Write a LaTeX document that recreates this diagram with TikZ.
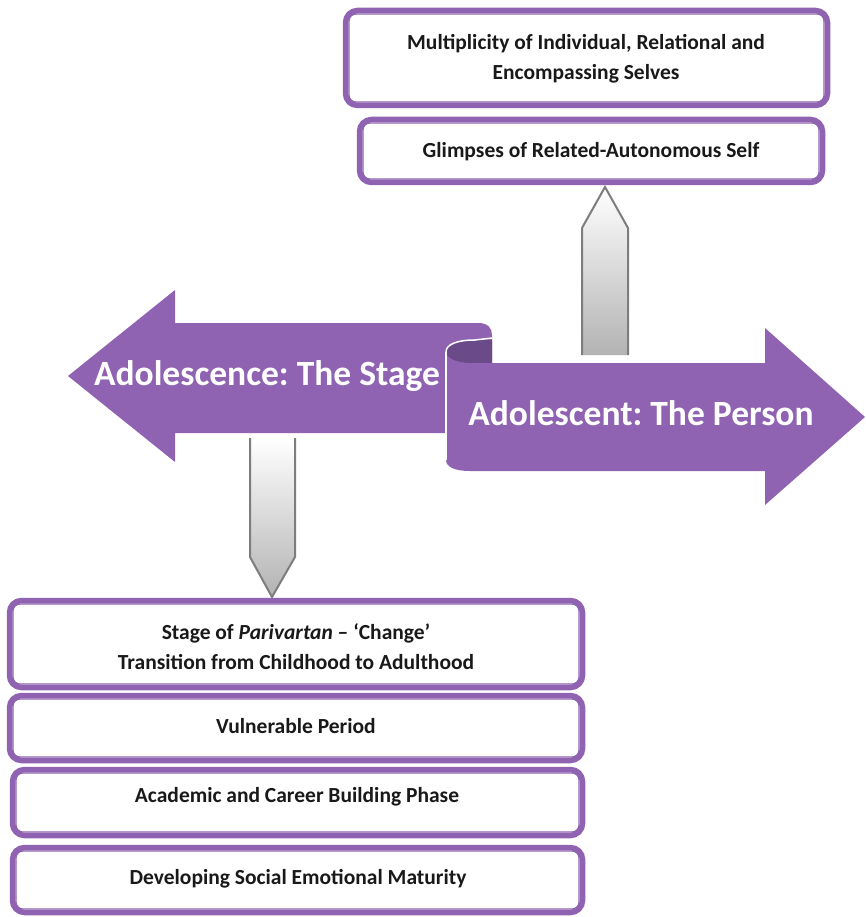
\documentclass[tikz,border=0pt]{standalone}
\usepackage{fontspec}
\setmainfont{Carlito}
\usetikzlibrary{calc}
\frenchspacing
\definecolor{purp}{RGB}{143,99,178}
\definecolor{darkpurp}{RGB}{106,74,136}
\definecolor{greyline}{RGB}{125,125,125}
\newcommand\innerframe[1]{\draw[thinframe] ($(#1.north west)+(6.2,6.2)$) rectangle ($(#1.south east)+(-6.2,-6.2)$);}
\begin{document}
\begin{tikzpicture}[x=1pt,y=-1pt,
  box/.style={draw=purp, line width=5.5pt, rounded corners=12pt, fill=white, inner sep=0pt},
  thinframe/.style={draw=purp, line width=1.3pt, rounded corners=7pt},
  boxtext/.style={font=\bfseries\fontsize{21.5}{30}\selectfont, align=center, inner sep=0pt, text=black!90},
  bigtext/.style={font=\bfseries\fontsize{35.5}{40}\selectfont, text=white, inner sep=0pt},
  greyarrow/.style={top color=white, bottom color=black!30},
  greyedge/.style={draw=greyline, line width=2pt, line join=miter}
]
\useasboundingbox (0,0) rectangle (865,917);

% big purple arrows
\fill[purp] (68,376) -- (175,290) -- (175,323) -- (478,323) .. controls (488,323) and (492,328) .. (492,335) -- (492,433) -- (175,433) -- (175,462) -- cycle;
\fill[darkpurp] (446,352) .. controls (446,344) and (458,340) .. (475,340) -- (492,340) -- (492,363) -- (470,363) .. controls (456,363) and (446,358) .. (446,352) -- cycle;
\draw[white, line width=1.5pt] (446,352) .. controls (446,344) and (458,340) .. (475,340) -- (492,338);
\fill[purp] (446,352) -- (446,460) .. controls (446,467) and (455,471) .. (470,471) -- (765,471) -- (765,505) -- (865,417) -- (765,328) -- (765,363) -- (470,363) .. controls (456,363) and (446,358) .. (446,352) -- cycle;
\draw[white, line width=1.5pt] (446,352) -- (446,460);
\node[bigtext] (stageLbl) at (267,376) {Adolescence: The Stage};
\node[bigtext] (personLbl) at (641,413) {Adolescent: The Person};

% grey block arrows
\shade[greyarrow] (605,187) -- (628,228) -- (628,355) -- (582,355) -- (582,228) -- cycle;
\draw[greyedge] (582,355) -- (582,228) -- (605,187) -- (628,228) -- (628,355);
\shade[greyarrow] (250,438) -- (295,438) -- (295,557) -- (272,597) -- (250,557) -- cycle;
\draw[greyedge] (250,438) -- (250,557) -- (272,597) -- (295,557) -- (295,438);

% top boxes
\node[box, minimum width=482pt, minimum height=95pt] (mult) at (586.5,58) {};
\innerframe{mult}
\node[boxtext] (multT) at (586,59) {Multiplicity of Individual, Relational and\\Encompassing Selves};
\node[box, minimum width=463pt, minimum height=63pt] (glimpse) at (591,151) {};
\innerframe{glimpse}
\node[boxtext] (glimpseT) at (591,151.5) {Glimpses of Related-Autonomous Self};

% bottom boxes
\node[box, minimum width=573pt, minimum height=87pt] (stage) at (296,644) {};
\innerframe{stage}
\node[boxtext] (stageT) at (296,646.5) {Stage of \textit{Parivartan} -- `Change'\\Transition from Childhood to Adulthood};
\node[box, minimum width=573pt, minimum height=65pt] (vuln) at (296,728) {};
\innerframe{vuln}
\node[boxtext] (vulnT) at (296,726) {Vulnerable Period};
\node[box, minimum width=570pt, minimum height=66pt] (acad) at (297.5,802.5) {};
\innerframe{acad}
\node[boxtext] (acadT) at (297,797) {Academic and Career Building Phase};
\node[box, minimum width=570pt, minimum height=65pt] (dev) at (297.5,880) {};
\innerframe{dev}
\node[boxtext] (devT) at (298,879) {Developing Social Emotional Maturity};
\end{tikzpicture}
\end{document}
